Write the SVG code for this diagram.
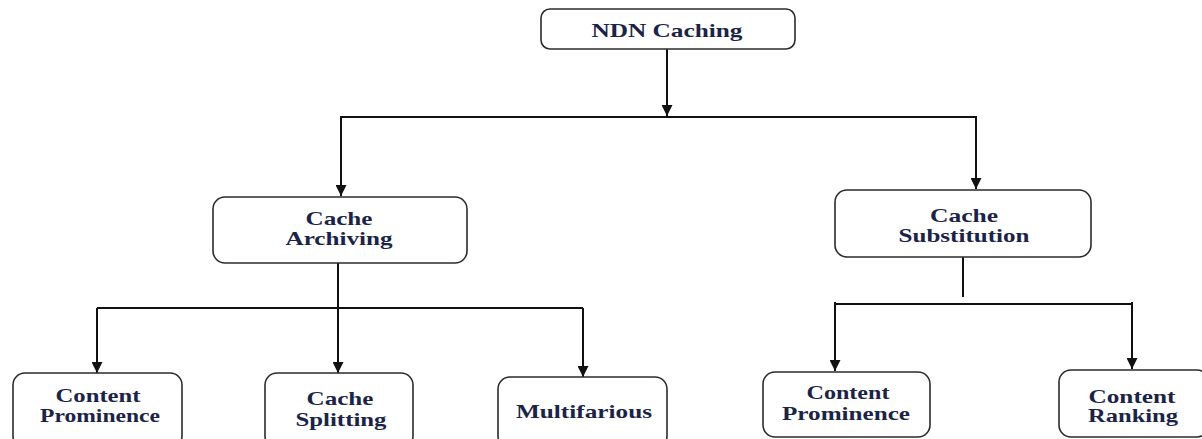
<svg xmlns="http://www.w3.org/2000/svg" width="1202" height="439" viewBox="0 0 1202 439">
<style>
.box{fill:#fff;stroke:#2b2b2b;stroke-width:1.6}
.t{font-family:"Liberation Serif","Times New Roman",serif;font-weight:bold;font-size:19px;fill:#1b2447;text-anchor:middle}
.ln{fill:none;stroke:#111;stroke-width:2}
</style>
<defs>
<marker id="ah" viewBox="0 0 10 10" refX="10" refY="5" markerWidth="11" markerHeight="11" markerUnits="userSpaceOnUse" orient="auto">
<path d="M0,0 L10,5 L0,10 z" fill="#111"/>
</marker>
</defs>
<rect width="1202" height="439" fill="#fff"/>
<g id="connectors">
<path class="ln" d="M667,49 V116" marker-end="url(#ah)"/>
<path class="ln" d="M340,117 H977"/>
<path class="ln" d="M341,117 V196" marker-end="url(#ah)"/>
<path class="ln" d="M976,117 V189" marker-end="url(#ah)"/>
<path class="ln" d="M338,263 V308"/>
<path class="ln" d="M97,308 H583"/>
<path class="ln" d="M97,308 V373" marker-end="url(#ah)"/>
<path class="ln" d="M338,308 V373" marker-end="url(#ah)"/>
<path class="ln" d="M583,308 V377" marker-end="url(#ah)"/>
<path class="ln" d="M963,257 V297"/>
<path class="ln" d="M835,304 H1132"/>
<path class="ln" d="M835,302 V371" marker-end="url(#ah)"/>
<path class="ln" d="M1132,302 V369" marker-end="url(#ah)"/>
</g>
<g id="ndn-caching">
<rect class="box" x="541" y="9" width="254" height="40" rx="9"/>
<text class="t" x="667" y="37" textLength="151" lengthAdjust="spacingAndGlyphs">NDN Caching</text>
</g>
<g id="cache-archiving">
<rect class="box" x="213" y="197" width="254" height="66" rx="12"/>
<text class="t" x="339" y="225" textLength="67" lengthAdjust="spacingAndGlyphs">Cache</text>
<text class="t" x="339" y="245" textLength="107" lengthAdjust="spacingAndGlyphs">Archiving</text>
</g>
<g id="cache-substitution">
<rect class="box" x="835" y="190" width="256" height="67" rx="12"/>
<text class="t" x="964" y="222" textLength="68" lengthAdjust="spacingAndGlyphs">Cache</text>
<text class="t" x="964" y="242" textLength="131" lengthAdjust="spacingAndGlyphs">Substitution</text>
</g>
<g id="content-prominence-1">
<rect class="box" x="13" y="373" width="169" height="75" rx="12"/>
<text class="t" x="98" y="402" textLength="85" lengthAdjust="spacingAndGlyphs">Content</text>
<text class="t" x="100" y="422" textLength="120" lengthAdjust="spacingAndGlyphs">Prominence</text>
</g>
<g id="cache-splitting">
<rect class="box" x="265" y="373" width="148" height="75" rx="12"/>
<text class="t" x="340" y="405" textLength="67" lengthAdjust="spacingAndGlyphs">Cache</text>
<text class="t" x="341" y="426" textLength="91" lengthAdjust="spacingAndGlyphs">Splitting</text>
</g>
<g id="multifarious">
<rect class="box" x="498" y="377" width="169" height="71" rx="12"/>
<text class="t" x="584" y="418" textLength="136" lengthAdjust="spacingAndGlyphs">Multifarious</text>
</g>
<g id="content-prominence-2">
<rect class="box" x="763" y="372" width="167" height="65" rx="12"/>
<text class="t" x="848" y="399" textLength="83" lengthAdjust="spacingAndGlyphs">Content</text>
<text class="t" x="846" y="420" textLength="128" lengthAdjust="spacingAndGlyphs">Prominence</text>
</g>
<g id="content-ranking">
<rect class="box" x="1059" y="370" width="150" height="67" rx="12"/>
<text class="t" x="1132" y="403" textLength="87" lengthAdjust="spacingAndGlyphs">Content</text>
<text class="t" x="1133" y="422" textLength="90" lengthAdjust="spacingAndGlyphs">Ranking</text>
</g>
</svg>
